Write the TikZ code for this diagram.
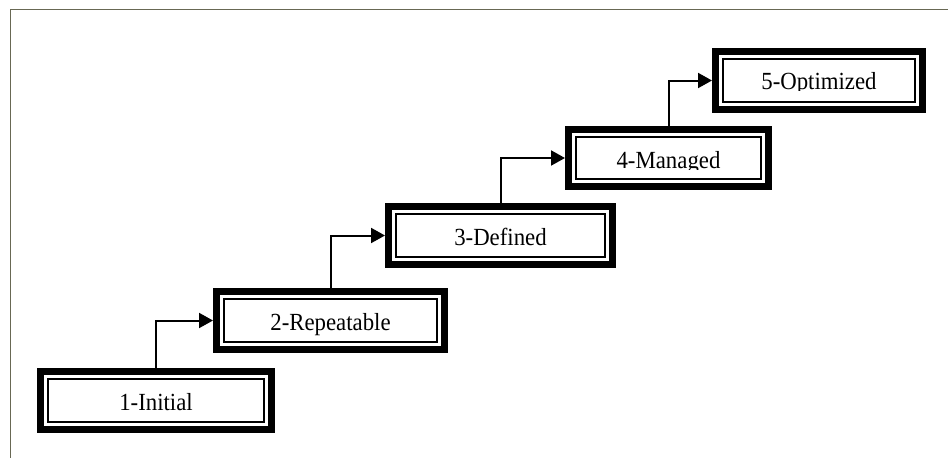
\documentclass[tikz,border=0pt]{standalone}
\usepackage{fontspec}
\setmainfont{Liberation Serif}
\usetikzlibrary{arrows.meta}
\definecolor{framecol}{RGB}{104,104,84}
\newcommand{\stxt}[1]{\scalebox{1}[1.08]{#1}}
\begin{document}
\begin{tikzpicture}[x=1pt,y=-1pt,
  stepbox/.style={draw=black, line width=7.3pt, inner sep=0pt, outer sep=3.65pt, fill=white},
  innerline/.style={draw=black, line width=1.8pt},
  steptext/.style={anchor=base, inner sep=0pt, font=\fontsize{22.8}{27}\selectfont},
  conn/.style={line width=2pt, -{Triangle[length=14pt,width=15pt]}},
  frameline/.style={draw=framecol, line width=1.6pt}]
\useasboundingbox (0,0) rectangle (948,458);
\fill[white] (0,0) rectangle (948,458);
% frame
\draw[frameline] (948,9.5) -- (10.5,9.5) -- (10.5,458);
% boxes
\node[stepbox, minimum width=230.7pt, minimum height=57.7pt] (b1) at (156,400.5) {};
\node[stepbox, minimum width=227.7pt, minimum height=57.7pt] (b2) at (330.5,320.5) {};
\node[stepbox, minimum width=223.7pt, minimum height=57.7pt] (b3) at (500.5,235.5) {};
\node[stepbox, minimum width=199.7pt, minimum height=56.7pt] (b4) at (668.5,158) {};
\node[stepbox, minimum width=206.7pt, minimum height=57.7pt] (b5) at (819,80.5) {};
\foreach \b in {b1,b2,b3,b4,b5}{
  \draw[innerline] ([shift={(11,11)}]\b.north west) rectangle ([shift={(-11,-11)}]\b.south east);
}
% texts
\node[steptext] (t1) at (156,410) {\stxt{1-Initial}};
\node[steptext] (t2) at (330.5,330) {\stxt{2-Repeatable}};
\node[steptext] (t3) at (500.5,245) {\stxt{3-Defined}};
\begin{scope}
  \clip (580,130) rectangle (760,169);
  \node[steptext] (t4) at (668.5,168) {\stxt{4-Managed}};
\end{scope}
\begin{scope}
  \clip (725,52) rectangle (915,90.5);
  \node[steptext] (t5) at (819,89.5) {\stxt{5-Optimized}};
\end{scope}
% connectors
\draw[conn] (b1.north) |- (b2.west);
\draw[conn] (b2.north) |- (b3.west);
\draw[conn] (b3.north) |- (b4.west);
\draw[conn] (b4.north) |- (b5.west);
\end{tikzpicture}
\end{document}
